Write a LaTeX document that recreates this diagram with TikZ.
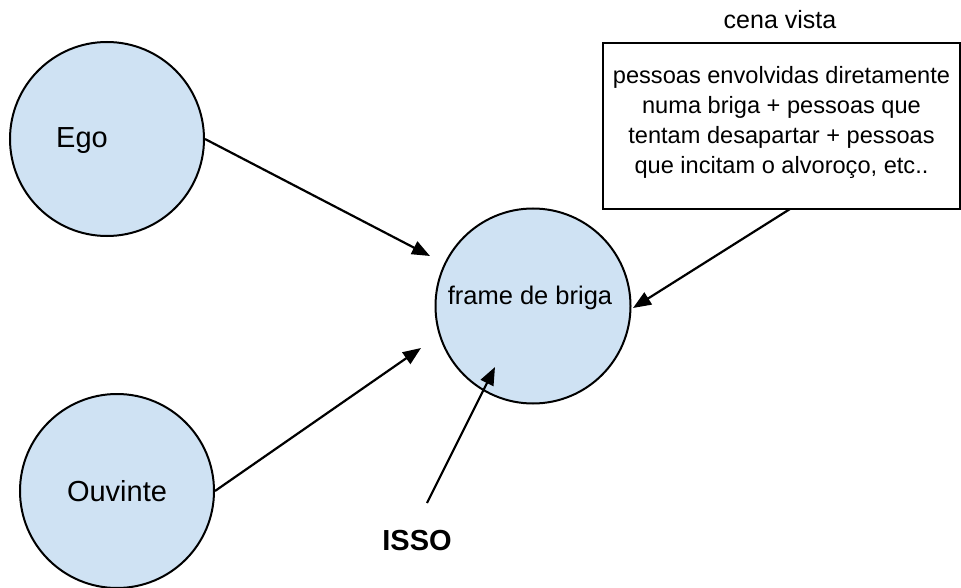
\documentclass[tikz,border=0pt]{standalone}
\usepackage{fontspec}
\setmainfont{Liberation Sans}
\usetikzlibrary{arrows.meta}
\definecolor{cfill}{HTML}{CFE2F3}
\tikzset{
  circ/.style={circle, draw=black, line width=2pt, fill=cfill, inner sep=0pt},
  arr/.style={line width=2.2pt, -{Triangle[length=18pt,width=14pt]}},
  boxst/.style={draw=black, line width=2.6pt, fill=white, inner sep=0pt},
}
\begin{document}
\begin{tikzpicture}[x=1pt,y=-1pt]
\useasboundingbox (0,0) rectangle (961,588);
% circles
\node[circ, minimum size=194pt] (ego) at (107,139) {};
\node[font=\fontsize{29}{34}\selectfont] (egot) at (82,141) {Ego};
\node[circ, minimum size=194pt, font=\fontsize{29}{34}\selectfont] (ouv) at (117,491) {Ouvinte};
\node[circ, minimum size=195pt] (frame) at (533,306) {};
\node[font=\fontsize{25.5}{30}\selectfont] (framet) at (530,298) {frame de briga};
% box
\node[boxst, minimum width=357pt, minimum height=166pt] (box) at (781.5,126) {};
\node[align=center, font=\fontsize{23.6}{30}\selectfont] (boxt) at (781.5,122)
  {pessoas envolvidas diretamente\\numa briga + pessoas que\\tentam desapartar + pessoas\\que incitam o alvoroço, etc..};
\node[font=\fontsize{25}{30}\selectfont] (cena) at (780,20) {cena vista};
\node[font=\bfseries\fontsize{29}{34}\selectfont] (isso) at (417,541) {ISSO};
% arrow ends
\coordinate (t1) at (430,256);
\coordinate (t2) at (421,348);
\coordinate (t3) at (633,308);
\coordinate (t4) at (495,367);
\coordinate (s3) at (790,209);
\coordinate (s4) at (427,503);
\draw[arr] (ego.east) -- (t1);
\draw[arr] (ouv.east) -- (t2);
\draw[arr] (s3) -- (t3);
\draw[arr] (s4) -- (t4);
\end{tikzpicture}
\end{document}
